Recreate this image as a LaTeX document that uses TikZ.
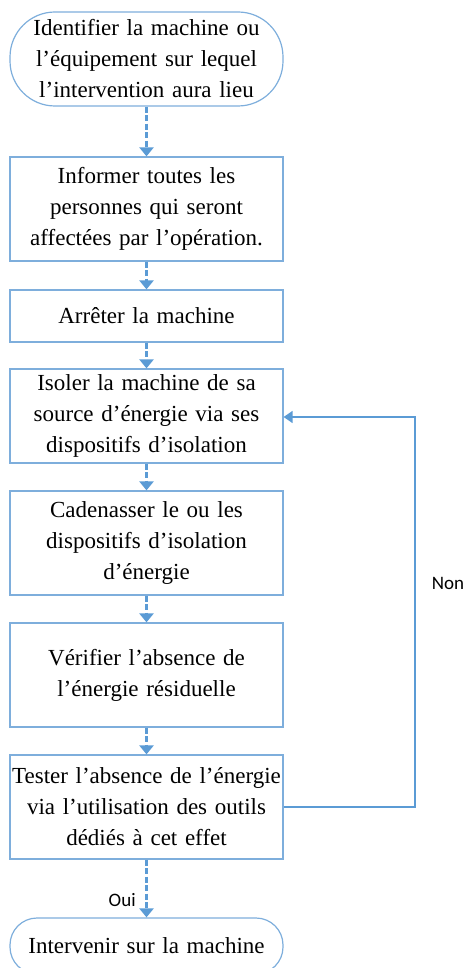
\documentclass[tikz,border=0pt]{standalone}
\usepackage{fontspec}
\setmainfont{Liberation Serif}
\newfontfamily\labelfont{Carlito}
\usetikzlibrary{arrows.meta}
\definecolor{bl}{HTML}{5B9BD5}
\definecolor{bd}{HTML}{7EAEDC}
\tikzset{
  x=1pt,y=-1pt,
  box/.style={draw=bd,line width=1.2pt,minimum width=273pt,text width=273pt,align=center,inner sep=0pt,font=\fontsize{23}{31}\selectfont},
  term/.style={box,rounded corners=#1},
  flow/.style={draw=bl,line width=3pt,dash pattern=on 6pt off 2.5pt,-{Triangle[width=14pt,length=9pt]}},
  loopline/.style={draw=bl,line width=1.5pt,-{Triangle[width=12pt,length=9pt]}},
  lbl/.style={font=\labelfont\fontsize{19}{22}\selectfont}
}
\begin{document}
\begin{tikzpicture}
\useasboundingbox (0,0) rectangle (473,968);
\node[term=45pt,minimum height=94pt] (n1) at (146.5,59) {Identifier la machine ou\\ l’équipement sur lequel\\ l’intervention aura lieu};
\node[box,minimum height=104pt] (n2) at (146.5,209) {Informer toutes les\\ personnes qui seront\\ affectées par l’opération.};
\node[box,minimum height=52pt] (n3) at (146.5,316) {Arrêter la machine};
\node[box,minimum height=94pt] (n4) at (146.5,416) {Isoler la machine de sa\\ source d’énergie via ses\\ dispositifs d’isolation};
\node[box,minimum height=104pt] (n5) at (146.5,543) {Cadenasser le ou les\\ dispositifs d’isolation\\ d’énergie};
\node[box,minimum height=104pt] (n6) at (146.5,675) {Vérifier l’absence de\\ l’énergie résiduelle};
\node[box,minimum height=104pt] (n7) at (146.5,807) {Tester l’absence de l’énergie\\ via l’utilisation des outils\\ dédiés à cet effet};
\node[term=27pt,minimum height=56pt] (n8) at (146.5,946) {Intervenir sur la machine};
\draw[flow] (n1) -- (n2);
\draw[flow] (n2) -- (n3);
\draw[flow] (n3) -- (n4);
\draw[flow] (n4) -- (n5);
\draw[flow] (n5) -- (n6);
\draw[flow] (n6) -- (n7);
\draw[flow] (n7) -- node[lbl,left=6pt,pos=0.7] (oui) {Oui} (n8);
\coordinate (c1) at (415,807);
\coordinate (c2) at (415,417);
\draw[loopline] (n7.east) -- (c1) -- (c2) -- (n4.east |- c2);
\node[lbl] (non) at (448,583) {Non};
\end{tikzpicture}
\end{document}
